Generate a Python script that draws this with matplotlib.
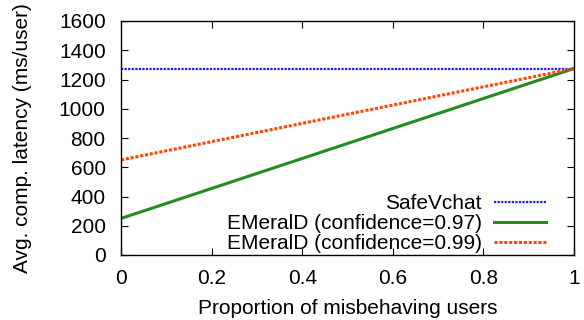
import matplotlib
matplotlib.use("Agg")
import matplotlib.pyplot as plt

plt.rcParams['font.family'] = ['Liberation Sans', 'DejaVu Sans']

# proportion of misbehaving users
x = [0, 1]
safevchat = [1275, 1275]
emerald_097 = [250, 1275]
emerald_099 = [650, 1275]

xticks = [0, 0.2, 0.4, 0.6, 0.8, 1]
xtick_labels = ['0', '0.2', '0.4', '0.6', '0.8', '1']
yticks = [0, 200, 400, 600, 800, 1000, 1200, 1400, 1600]

fs = 15

fig = plt.figure(figsize=(5.84, 3.2), dpi=100)
ax = fig.add_axes([121 / 584, 1 - 255 / 320, (574 - 121) / 584, (255 - 21) / 320])

ax.plot(x, safevchat, color='#1a1aff', linestyle=(0, (1, 0.6)), linewidth=1.6, label='SafeVchat')
ax.plot(x, emerald_097, color='#228b22', linestyle='-', linewidth=2.2, label='EMeralD (confidence=0.97)')
ax.plot(x, emerald_099, color='#ff4500', linestyle=(0, (1, 0.6)), linewidth=2.2, label='EMeralD (confidence=0.99)')

ax.set_xlim(0, 1)
ax.set_ylim(0, 1600)
ax.set_xticks(xticks)
ax.set_xticklabels(xtick_labels)
ax.set_yticks(yticks)
ax.tick_params(direction='in', top=True, right=True, length=5, width=0.8, labelsize=fs)
ax.tick_params(axis='x', pad=10)
ax.tick_params(axis='y', pad=11)
for s in ax.spines.values():
    s.set_linewidth(1)

ax.set_xlabel('Proportion of misbehaving users', fontsize=fs, labelpad=8)
ax.set_ylabel('Avg. comp. latency (ms/user)', fontsize=fs, labelpad=19)

ax.legend(loc='lower right', bbox_to_anchor=(0.943, 0.0), frameon=False, markerfirst=False,
          fontsize=fs, handlelength=2.5, labelspacing=0.05, borderaxespad=0.0,
          handletextpad=0.6, borderpad=0.1)

fig.savefig('out.png', dpi=100)
